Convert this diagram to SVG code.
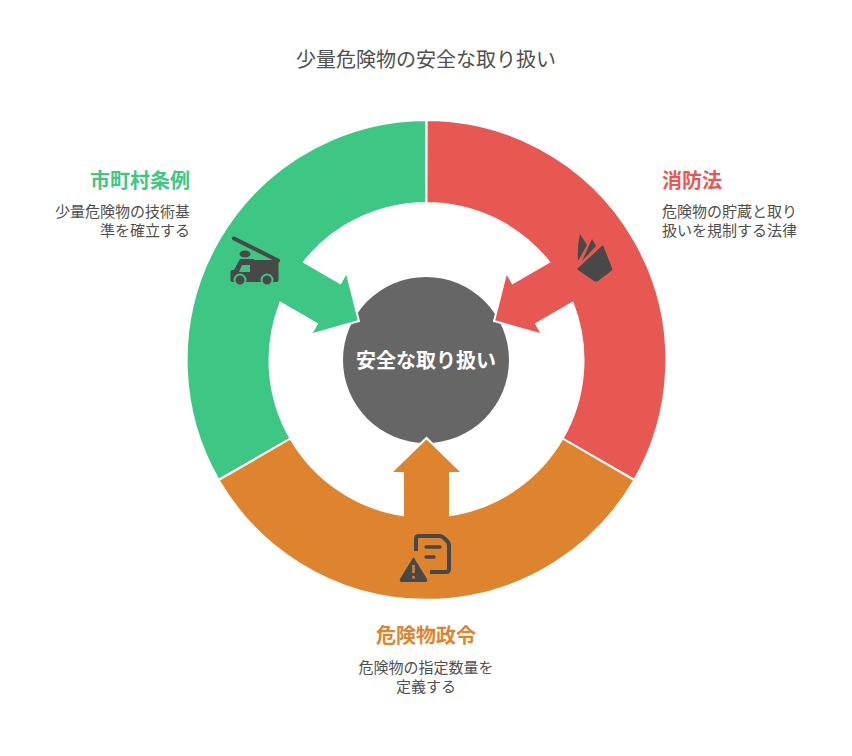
<svg xmlns="http://www.w3.org/2000/svg" width="852" height="756" viewBox="0 0 852 756">
<style>
text{font-family:"Noto Sans CJK JP","Noto Sans",sans-serif}
.seg{stroke:#fff;stroke-width:2}
.ic{fill:#484848}
.t{font-size:20px;font-weight:700}
.d{font-size:15px;fill:#4f4f4f}
</style>
<defs>
<path id="seg" class="seg" d="M634.300 480.200A240.300 240.300 0 0 1 218.700 480.200L290.500 438.500A157 157 0 0 0 403 515.200V473H390.500L426.500 438L462.500 473H450V515.200A157 157 0 0 0 562.500 438.500Z"/>
</defs>
<rect width="852" height="756" fill="#fff"/>
<text x="426" y="67" text-anchor="middle" font-size="20" fill="#4f4f4f">少量危険物の安全な取り扱い</text>
<g id="center"><circle cx="426" cy="360" r="83" fill="#666"/><text x="426" y="368" text-anchor="middle" font-size="20" font-weight="700" fill="#fff">安全な取り扱い</text></g>
<g id="connectors">
<use href="#seg" fill="#3dc684" transform="rotate(120 426.500 360)"/>
<use href="#seg" fill="#e85853" transform="rotate(240 426.500 360)"/>
<use href="#seg" fill="#de842f"/>
</g>
<g id="node-shobo">
<path class="ic" d="M580 234L587 245L578 261Q577 247 580 234ZM592 239L596 246L582 261Z"/>
<path class="ic" d="M603 245L612 268Q612.500 270 611 271L598 281Q596 282 594 281L578 270Q577 269 578 268Z"/>
<text class="t" x="662" y="188" fill="#e85853">消防法</text>
<text class="d" x="662" y="217">危険物の貯蔵と取り</text>
<text class="d" x="662" y="236">扱いを規制する法律</text>
</g>
<g id="node-shichoson">
<path d="M234 238.500L278 260.500" fill="none" stroke="#484848" stroke-width="4" stroke-linecap="round"/>
<ellipse class="ic" cx="245" cy="254" rx="5.500" ry="3.500"/>
<path class="ic" d="M240 259H254V260H277Q278.500 260 278.500 262V280Q278.500 282 277 282H232Q230.500 282 230.500 280V272Q230.500 270 232 270H234Z"/>
<path d="M242 265H250V272H239Z" fill="#3dc684"/>
<circle class="ic" cx="240" cy="280" r="5.500" stroke="#3dc684" stroke-width="2"/><circle class="ic" cx="267" cy="280" r="5.500" stroke="#3dc684" stroke-width="2"/>
<text class="t" x="190" y="188" text-anchor="end" fill="#3dc684">市町村条例</text>
<text class="d" x="190" y="217" text-anchor="end">少量危険物の技術基</text>
<text class="d" x="190" y="236" text-anchor="end">準を確立する</text>
</g>
<g id="node-seirei">
<path fill="none" stroke="#484848" stroke-width="4" d="M416 551V539Q416 536 419 536H440Q442 536 444 538L447 541Q449 543 449 545V569Q449 572 446 572H430"/>
<path fill="none" stroke="#484848" stroke-width="3.500" stroke-linecap="round" d="M426 547H440M426 557H434"/>
<path class="ic" d="M413.500 557L427 579Q428 582 425 582H402Q399 582 400 579Z"/>
<text class="t" x="426" y="643" text-anchor="middle" fill="#de842f">危険物政令</text>
<text class="d" x="426" y="673" text-anchor="middle">危険物の指定数量を</text>
<text class="d" x="426" y="692" text-anchor="middle">定義する</text>
<path d="M413.500 565V573M413.500 576V578.500" stroke="#de842f" stroke-width="2.500" fill="none"/>
</g>
</svg>
